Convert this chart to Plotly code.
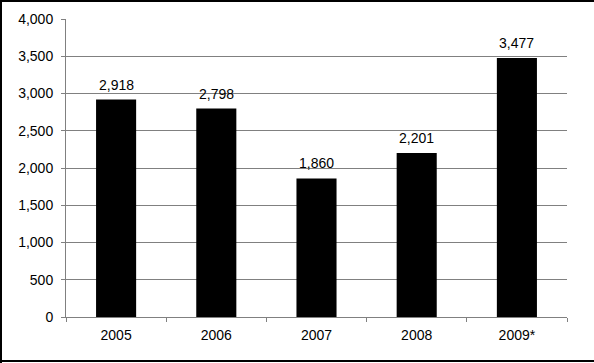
import plotly.graph_objects as go

categories = ["2005", "2006", "2007", "2008", "2009*"]
values = [2918, 2798, 1860, 2201, 3477]
labels = [f"{v:,}" for v in values]

W, H = 594, 363
ml, mr, mt, mb = 66, 27, 19, 46
pw, ph = W - ml - mr, H - mt - mb

FONT = "Arial, Liberation Sans, sans-serif"

fig = go.Figure(go.Bar(
    x=categories, y=values,
    marker=dict(color="black", line=dict(width=0)),
    hoverinfo="skip",
))

for i, (v, t) in enumerate(zip(values, labels)):
    fig.add_annotation(x=i, y=v, text=t, showarrow=False, yanchor="bottom",
                       yshift=5, font=dict(family=FONT, size=14, color="black"))

def px(x):
    return (x - ml) / pw

def py(y):
    return 1 - (y - mt) / ph

fig.update_layout(
    width=W, height=H,
    margin=dict(l=ml, r=mr, t=mt, b=mb, autoexpand=False),
    paper_bgcolor="white", plot_bgcolor="white",
    bargap=0.6, showlegend=False,
    font=dict(family=FONT, size=14, color="black"),
    xaxis=dict(type="category", range=[-0.5, len(categories) - 0.5],
               showline=True, linecolor="#808080", linewidth=1,
               ticks="outside", ticklen=4, tickcolor="#808080", tickson="boundaries",
               tickfont=dict(size=14), showgrid=False, automargin=False,
               ticklabelstandoff=5, tickangle=0),
    yaxis=dict(range=[0, 4000], dtick=500, tickformat=",", showline=True,
               linecolor="#808080", linewidth=1, ticks="outside", ticklen=4,
               tickcolor="#808080", showgrid=True, gridcolor="#808080", gridwidth=1,
               zeroline=False, tickfont=dict(size=14), automargin=False,
               ticklabelstandoff=5),
    shapes=[
        dict(type="line", xref="paper", yref="paper", x0=px(1), x1=px(1), y0=py(0), y1=py(H), line=dict(color="black", width=2)),
        dict(type="line", xref="paper", yref="paper", x0=px(0), x1=px(W), y0=py(1), y1=py(1), line=dict(color="black", width=2)),
        dict(type="line", xref="paper", yref="paper", x0=px(0), x1=px(W), y0=py(H - 2), y1=py(H - 2), line=dict(color="black", width=2)),
    ],
)

fig.write_html("out.html", config={"displayModeBar": False},
               post_script="document.body.style.margin='0';document.body.style.padding='0';")
